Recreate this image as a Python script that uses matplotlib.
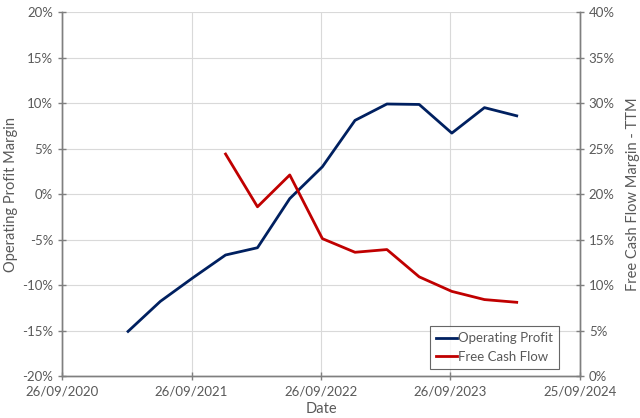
import datetime as dt
import matplotlib
matplotlib.use("Agg")
import matplotlib.pyplot as plt
import matplotlib.dates as mdates
from matplotlib.ticker import FuncFormatter, MultipleLocator

# quarter ends
dates = [dt.date(2021, 3, 31), dt.date(2021, 6, 30), dt.date(2021, 9, 30), dt.date(2021, 12, 31),
         dt.date(2022, 3, 31), dt.date(2022, 6, 30), dt.date(2022, 9, 30), dt.date(2022, 12, 31),
         dt.date(2023, 3, 31), dt.date(2023, 6, 30), dt.date(2023, 9, 30), dt.date(2023, 12, 31),
         dt.date(2024, 3, 31)]
op_margin = [-15.1, -11.8, -9.2, -6.7, -5.9, -0.5, 3.0, 8.1, 9.9, 9.85, 6.7, 9.5, 8.6]

fcf_dates = dates[3:]
fcf_margin = [24.4, 18.6, 22.1, 15.1, 13.6, 13.9, 10.9, 9.3, 8.4, 8.1]

x_ticks = [dt.date(2020, 9, 26), dt.date(2021, 9, 26), dt.date(2022, 9, 26),
           dt.date(2023, 9, 26), dt.date(2024, 9, 25)]

plt.rcParams['font.family'] = ['Lato', 'DejaVu Sans']
txt = '#595959'
grid = '#d9d9d9'
spine = '#7f7f7f'

fig = plt.figure(figsize=(6.4, 4.18), dpi=100)
ax = fig.add_axes([0.097, 0.1005, 0.809, 0.8705])
ax2 = ax.twinx()

l1, = ax.plot(dates, op_margin, color='#002060', lw=2.0, label='Operating Profit')
l2, = ax2.plot(fcf_dates, fcf_margin, color='#C00000', lw=2.0, label='Free Cash Flow')

ax.set_xlim(x_ticks[0], x_ticks[-1])
ax.set_xticks(x_ticks)
ax.xaxis.set_major_formatter(mdates.DateFormatter('%d/%m/%Y'))
ax.set_ylim(-20, 20)
ax.yaxis.set_major_locator(MultipleLocator(5))
ax.yaxis.set_major_formatter(FuncFormatter(lambda v, p: '{:.0f}%'.format(v)))
ax2.set_ylim(0, 40)
ax2.yaxis.set_major_locator(MultipleLocator(5))
ax2.yaxis.set_major_formatter(FuncFormatter(lambda v, p: '{:.0f}%'.format(v)))

ax.grid(True, color=grid, lw=0.8)
ax.set_axisbelow(True)

for a in (ax, ax2):
    a.spines['top'].set_visible(False)
    for s in ('left', 'right', 'bottom'):
        a.spines[s].set_color(spine)
        a.spines[s].set_linewidth(1.0)
    a.tick_params(colors=spine, labelcolor=txt, labelsize=9.5, length=4, width=1)

ax.tick_params(axis='x', direction='inout', length=6, pad=4)
ax.tick_params(axis='y', direction='inout', length=6)
ax2.tick_params(axis='y', direction='inout', length=6)

ax.set_xlabel('Date', color=txt, fontsize=10.5, labelpad=3)
ax.set_ylabel('Operating Profit Margin', color=txt, fontsize=10.5, labelpad=3)
ax2.set_ylabel('Free Cash Flow Margin - TTM', color=txt, fontsize=10.5, labelpad=8)

leg = ax2.legend(handles=[l1, l2], loc='lower right', bbox_to_anchor=(0.96, 0.02),
                 borderaxespad=0, fontsize=9.5, frameon=True, fancybox=False,
                 handlelength=1.6, handletextpad=0.1, borderpad=0.45, labelspacing=0.5)
leg.get_frame().set_edgecolor('#404040')
leg.get_frame().set_linewidth(0.8)
for t in leg.get_texts():
    t.set_color(txt)

fig.savefig('out.png', dpi=100)
